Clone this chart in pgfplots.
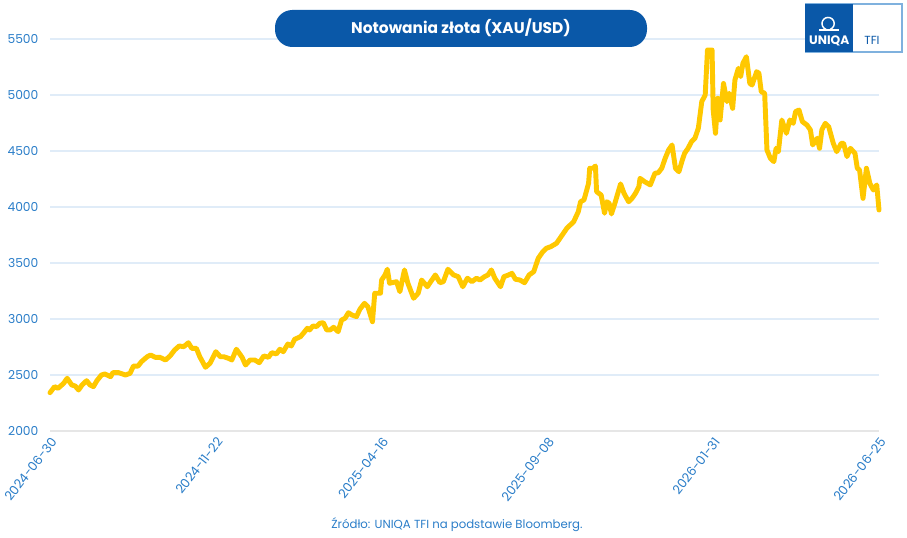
\documentclass[border=0pt]{standalone}
\usepackage{fontspec}
\setmainfont{Poppins}
\usepackage{pgfplots}
\pgfplotsset{compat=1.18}
\definecolor{gold}{RGB}{255,200,0}
\definecolor{lblue}{RGB}{42,125,200}
\definecolor{tblue}{RGB}{10,88,168}
\definecolor{gridc}{RGB}{224,236,248}
\definecolor{basec}{RGB}{230,230,230}
\begin{document}
\begin{tikzpicture}
\path[use as bounding box] (0,0) rectangle (680.25pt,403.5pt);
\begin{axis}[
  at={(37.5pt,80.25pt)}, anchor=south west,
  scale only axis, width=621.75pt, height=294pt,
  xmin=0, xmax=725, ymin=2000, ymax=5500,
  axis line style={draw=none},
  major tick length=0pt,
  ytick={2000,2500,...,5500},
  ymajorgrids, grid style={gridc, line width=0.9pt},
  xtick={0,145,290,435,580,725},
  xticklabels={2024-06-30,2024-11-22,2025-04-16,2025-09-08,2026-01-31,2026-06-25},
  xticklabel style={font=\fontsize{9.5}{11}\selectfont, text=lblue, inner sep=0pt, xshift=3pt, yshift=-6pt, rotate=52, anchor=east},
  yticklabel style={font=\fontsize{9.2}{11}\selectfont, text=lblue, inner sep=0pt, xshift=-8.5pt, anchor=east},
  /pgf/number format/assume math mode=true,
  y tick label style={/pgf/number format/1000 sep={}},
  clip=false,
]
\draw[basec, line width=1.6pt] (axis cs:0,2000) -- (axis cs:725,2000);
\addplot[gold, line width=3.7pt, line join=round, line cap=round] coordinates {
(0,2342)(4,2396)(7,2381)(12,2426)(15,2471)(19,2411)(22,2402)(25,2366)(28,2411)(32,2449)
(35,2411)(38,2396)(41,2449)(45,2500)(48,2509)(53,2485)(55,2521)(60,2521)(66,2500)(70,2515)
(73,2580)(77,2580)(80,2619)(85,2663)(88,2679)(92,2658)(96,2658)(101,2634)(105,2670)(109,2723)
(113,2759)(117,2753)(121,2788)(124,2738)(128,2738)(131,2663)(136,2569)(140,2605)(145,2708)(149,2663)
(152,2663)(156,2649)(159,2634)(163,2730)(168,2658)(171,2589)(175,2634)(179,2634)(183,2610)(187,2670)
(191,2658)(194,2699)(198,2688)(201,2730)(204,2708)(208,2777)(211,2759)(214,2819)(219,2842)(222,2878)
(225,2917)(227,2902)(230,2938)(233,2932)(236,2962)(239,2967)(242,2902)(245,2902)(248,2926)(252,2887)
(255,2991)(258,3006)(261,3056)(264,3036)(268,3021)(271,3087)(275,3140)(278,3110)(282,2976)(284,3230)
(289,3230)(290,3348)(293,3393)(295,3444)(297,3319)(303,3333)(306,3244)(310,3438)(313,3319)(318,3185)
(322,3230)(325,3348)(330,3288)(332,3319)(337,3393)(341,3324)(344,3333)(348,3444)(353,3393)(357,3378)
(361,3288)(365,3364)(369,3333)(373,3364)(376,3348)(380,3378)(383,3393)(386,3438)(389,3364)(394,3288)
(397,3378)(401,3393)(404,3408)(407,3355)(411,3348)(415,3324)(419,3393)(423,3422)(427,3542)(431,3601)
(434,3631)(438,3646)(443,3676)(446,3721)(452,3810)(458,3869)(462,3958)(464,4047)(467,4063)(471,4211)
(472,4346)(475,4346)(477,4366)(478,4137)(482,4107)(485,3944)(487,4047)(489,4033)(491,3938)(494,4033)
(497,4137)(499,4206)(502,4122)(506,4047)(509,4077)(512,4122)(515,4181)(516,4256)(520,4226)(525,4197)
(529,4301)(532,4306)(535,4346)(538,4435)(541,4509)(544,4554)(547,4346)(550,4315)(553,4420)(555,4480)
(558,4524)(561,4583)(564,4614)(567,4703)(570,4941)(573,5000)(575,5402)(579,5402)(580,4866)(582,4658)
(584,4971)(586,4777)(589,5103)(592,4941)(594,5015)(597,4881)(599,5134)(602,5238)(604,5164)(606,5283)
(609,5342)(612,5104)(614,5089)(618,5208)(620,5194)(622,5030)(625,5015)(627,4509)(630,4435)(633,4405)
(635,4524)(637,4494)(640,4777)(644,4658)(647,4777)(650,4747)(652,4851)(655,4866)(658,4762)(662,4732)
(665,4688)(667,4554)(671,4614)(673,4524)(675,4688)(678,4747)(681,4717)(685,4569)(688,4494)(692,4569)
(694,4569)(697,4450)(700,4524)(704,4479)(706,4346)(708,4330)(711,4077)(714,4346)(717,4211)(720,4152)
(723,4197)(725,3973)
};
\end{axis}
% title pill
\fill[tblue, rounded corners=13pt] (206.25pt,368.25pt) rectangle (485.25pt,396pt);
\node[text=white, font=\bfseries\fontsize{11.6}{13}\selectfont] at (345.75pt,382.5pt) {Notowania złota (XAU/USD)};
% logo
\fill[white] (604pt,364.5pt) rectangle (676.5pt,400.5pt);
\draw[lblue!60, line width=0.8pt] (604pt,364.5pt) rectangle (676.5pt,400.5pt);
\fill[tblue] (604pt,364.5pt) rectangle (640pt,400.5pt);
\node[text=white, font=\bfseries\fontsize{9.2}{10}\selectfont] at (622pt,373.2pt) {UNIQA};
\draw[white, line width=1.1pt] (619.5pt,381.5pt) arc[start angle=250, end angle=-70, radius=4.6pt];
\draw[white, line width=1.1pt] (614.5pt,381pt) -- (629.5pt,381pt);
\node[text=tblue, font=\fontsize{8.8}{10}\selectfont] at (654pt,373.2pt) {TFI};
% source
\node[text=lblue, font=\fontsize{8.8}{10}\selectfont] at (342.75pt,9.75pt) {Źródło: UNIQA TFI na podstawie Bloomberg.};
\end{tikzpicture}
\end{document}
